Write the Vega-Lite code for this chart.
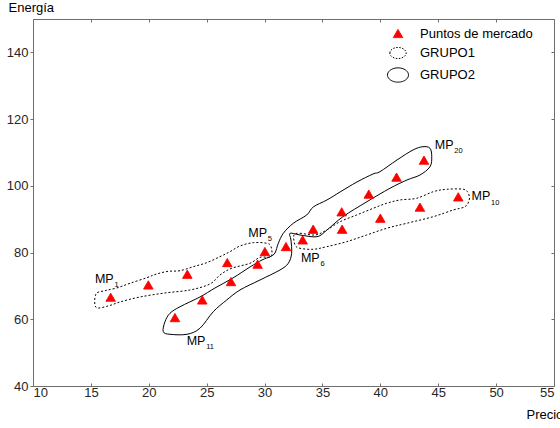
{
  "$schema": "https://vega.github.io/schema/vega-lite/v6.json",
  "width": 521,
  "height": 367,
  "autosize": {"type": "none"},
  "padding": {"left": 33, "top": 19, "right": 6, "bottom": 42},
  "background": "white",
  "config": {
    "view": {"stroke": null},
    "font": "Liberation Sans",
    "axis": {
      "grid": false,
      "domainColor": "#6e6e6e",
      "tickColor": "#6e6e6e",
      "labelColor": "#262626",
      "labelFont": "Liberation Sans",
      "labelFontSize": 13,
      "titleFont": "Liberation Sans",
      "titleFontSize": 13,
      "titleFontWeight": "normal",
      "titleColor": "#000000"
    },
    "legend": {
      "labelFont": "Liberation Sans",
      "labelFontSize": 13,
      "labelColor": "#000000"
    }
  },
  "datasets": {
    "pts": [
      {"precio": 16.71, "energia": 66.6, "serie": "Puntos de mercado"},
      {"precio": 19.96, "energia": 70.3, "serie": "Puntos de mercado"},
      {"precio": 23.33, "energia": 73.5, "serie": "Puntos de mercado"},
      {"precio": 26.78, "energia": 77.0, "serie": "Puntos de mercado"},
      {"precio": 30.03, "energia": 80.3, "serie": "Puntos de mercado"},
      {"precio": 33.29, "energia": 83.8, "serie": "Puntos de mercado"},
      {"precio": 36.7, "energia": 87.0, "serie": "Puntos de mercado"},
      {"precio": 40.0, "energia": 90.3, "serie": "Puntos de mercado"},
      {"precio": 43.42, "energia": 93.6, "serie": "Puntos de mercado"},
      {"precio": 46.73, "energia": 96.7, "serie": "Puntos de mercado"},
      {"precio": 22.26, "energia": 60.5, "serie": "Puntos de mercado"},
      {"precio": 24.62, "energia": 65.8, "serie": "Puntos de mercado"},
      {"precio": 27.1, "energia": 71.3, "serie": "Puntos de mercado"},
      {"precio": 29.4, "energia": 76.5, "serie": "Puntos de mercado"},
      {"precio": 31.85, "energia": 81.8, "serie": "Puntos de mercado"},
      {"precio": 34.2, "energia": 87.0, "serie": "Puntos de mercado"},
      {"precio": 36.66, "energia": 92.2, "serie": "Puntos de mercado"},
      {"precio": 39.0, "energia": 97.5, "serie": "Puntos de mercado"},
      {"precio": 41.4, "energia": 102.6, "serie": "Puntos de mercado"},
      {"precio": 43.77, "energia": 107.7, "serie": "Puntos de mercado"}
    ],
    "labels": [
      {"precio": 15.35, "energia": 72.1, "sub": "1"},
      {"precio": 28.59, "energia": 85.95, "sub": "5"},
      {"precio": 33.14, "energia": 78.4, "sub": "6"},
      {"precio": 47.88, "energia": 96.9, "sub": "10"},
      {"precio": 23.27, "energia": 53.5, "sub": "11"},
      {"precio": 44.71, "energia": 112.3, "sub": "20"}
    ],
    "g1": [
      {"part": "a", "i": 1, "precio": 15.44, "energia": 67.58},
      {"part": "a", "i": 2, "precio": 16.22, "energia": 68.57},
      {"part": "a", "i": 3, "precio": 17.23, "energia": 69.38},
      {"part": "a", "i": 4, "precio": 18.38, "energia": 70.79},
      {"part": "a", "i": 5, "precio": 19.82, "energia": 72.46},
      {"part": "a", "i": 6, "precio": 20.68, "energia": 73.57},
      {"part": "a", "i": 7, "precio": 21.69, "energia": 74.38},
      {"part": "a", "i": 8, "precio": 22.7, "energia": 74.56},
      {"part": "a", "i": 9, "precio": 23.85, "energia": 75.76},
      {"part": "a", "i": 10, "precio": 25.0, "energia": 76.96},
      {"part": "a", "i": 11, "precio": 26.15, "energia": 78.76},
      {"part": "a", "i": 12, "precio": 27.01, "energia": 80.26},
      {"part": "a", "i": 13, "precio": 27.88, "energia": 81.97},
      {"part": "a", "i": 14, "precio": 29.03, "energia": 82.96},
      {"part": "a", "i": 15, "precio": 30.18, "energia": 82.78},
      {"part": "a", "i": 16, "precio": 30.56, "energia": 81.76},
      {"part": "a", "i": 17, "precio": 30.56, "energia": 78.76},
      {"part": "a", "i": 18, "precio": 29.61, "energia": 78.58},
      {"part": "a", "i": 19, "precio": 28.74, "energia": 76.78},
      {"part": "a", "i": 20, "precio": 27.16, "energia": 75.28},
      {"part": "a", "i": 21, "precio": 26.15, "energia": 73.27},
      {"part": "a", "i": 22, "precio": 25.29, "energia": 70.58},
      {"part": "a", "i": 23, "precio": 23.56, "energia": 68.78},
      {"part": "a", "i": 24, "precio": 21.4, "energia": 67.88},
      {"part": "a", "i": 25, "precio": 19.24, "energia": 66.68},
      {"part": "a", "i": 26, "precio": 17.51, "energia": 65.18},
      {"part": "a", "i": 27, "precio": 16.48, "energia": 63.98},
      {"part": "a", "i": 28, "precio": 15.44, "energia": 63.59},
      {"part": "b", "i": 1, "precio": 32.54, "energia": 85.26},
      {"part": "b", "i": 2, "precio": 33.06, "energia": 85.77},
      {"part": "b", "i": 3, "precio": 34.36, "energia": 85.26},
      {"part": "b", "i": 4, "precio": 35.37, "energia": 86.76},
      {"part": "b", "i": 5, "precio": 36.52, "energia": 89.25},
      {"part": "b", "i": 6, "precio": 37.96, "energia": 91.26},
      {"part": "b", "i": 7, "precio": 39.39, "energia": 93.27},
      {"part": "b", "i": 8, "precio": 40.55, "energia": 94.77},
      {"part": "b", "i": 9, "precio": 41.7, "energia": 95.76},
      {"part": "b", "i": 10, "precio": 43.14, "energia": 96.27},
      {"part": "b", "i": 11, "precio": 44.57, "energia": 98.24},
      {"part": "b", "i": 12, "precio": 45.73, "energia": 98.96},
      {"part": "b", "i": 13, "precio": 47.17, "energia": 98.96},
      {"part": "b", "i": 14, "precio": 47.6, "energia": 97.76},
      {"part": "b", "i": 15, "precio": 47.68, "energia": 95.76},
      {"part": "b", "i": 16, "precio": 47.31, "energia": 93.75},
      {"part": "b", "i": 17, "precio": 46.3, "energia": 92.76},
      {"part": "b", "i": 18, "precio": 44.57, "energia": 90.75},
      {"part": "b", "i": 19, "precio": 42.28, "energia": 88.77},
      {"part": "b", "i": 20, "precio": 40.55, "energia": 87.27},
      {"part": "b", "i": 21, "precio": 38.82, "energia": 85.26},
      {"part": "b", "i": 22, "precio": 37.09, "energia": 83.26},
      {"part": "b", "i": 23, "precio": 35.37, "energia": 81.76},
      {"part": "b", "i": 24, "precio": 34.21, "energia": 80.98},
      {"part": "b", "i": 25, "precio": 33.06, "energia": 81.28},
      {"part": "b", "i": 26, "precio": 32.63, "energia": 82.27}
    ],
    "g2": [
      {"i": 1, "precio": 21.25, "energia": 56.28},
      {"i": 2, "precio": 21.4, "energia": 59.27},
      {"i": 3, "precio": 21.83, "energia": 61.79},
      {"i": 4, "precio": 22.7, "energia": 63.77},
      {"i": 5, "precio": 24.42, "energia": 66.68},
      {"i": 6, "precio": 25.72, "energia": 69.38},
      {"i": 7, "precio": 27.27, "energia": 72.37},
      {"i": 8, "precio": 28.74, "energia": 75.67},
      {"i": 9, "precio": 29.78, "energia": 77.77},
      {"i": 10, "precio": 30.47, "energia": 78.76},
      {"i": 11, "precio": 30.9, "energia": 79.87},
      {"i": 12, "precio": 31.19, "energia": 82.78},
      {"i": 13, "precio": 31.62, "energia": 85.77},
      {"i": 14, "precio": 32.48, "energia": 88.77},
      {"i": 15, "precio": 33.64, "energia": 91.26},
      {"i": 16, "precio": 34.21, "energia": 93.66},
      {"i": 17, "precio": 35.39, "energia": 95.76},
      {"i": 18, "precio": 36.52, "energia": 98.15},
      {"i": 19, "precio": 37.98, "energia": 101.15},
      {"i": 20, "precio": 39.37, "energia": 103.55},
      {"i": 21, "precio": 39.97, "energia": 104.24},
      {"i": 22, "precio": 41.44, "energia": 107.75},
      {"i": 23, "precio": 42.82, "energia": 110.74},
      {"i": 24, "precio": 43.68, "energia": 111.73},
      {"i": 25, "precio": 44.29, "energia": 111.25},
      {"i": 26, "precio": 44.44, "energia": 108.73},
      {"i": 27, "precio": 44.29, "energia": 105.74},
      {"i": 28, "precio": 43.43, "energia": 103.25},
      {"i": 29, "precio": 42.3, "energia": 101.75},
      {"i": 30, "precio": 40.83, "energia": 99.26},
      {"i": 31, "precio": 38.85, "energia": 95.25},
      {"i": 32, "precio": 36.77, "energia": 90.75},
      {"i": 33, "precio": 35.39, "energia": 86.76},
      {"i": 34, "precio": 34.53, "energia": 84.75},
      {"i": 35, "precio": 33.06, "energia": 85.26},
      {"i": 36, "precio": 32.2, "energia": 85.77},
      {"i": 37, "precio": 32.28, "energia": 83.76},
      {"i": 38, "precio": 32.34, "energia": 79.78},
      {"i": 39, "precio": 32.05, "energia": 76.78},
      {"i": 40, "precio": 31.33, "energia": 74.77},
      {"i": 41, "precio": 29.61, "energia": 71.78},
      {"i": 42, "precio": 27.88, "energia": 68.78},
      {"i": 43, "precio": 26.73, "energia": 65.78},
      {"i": 44, "precio": 25.57, "energia": 62.27},
      {"i": 45, "precio": 24.42, "energia": 57.3},
      {"i": 46, "precio": 23.3, "energia": 55.5},
      {"i": 47, "precio": 21.83, "energia": 55.5}
    ]
  },
  "resolve": {"axis": {"x": "independent", "y": "independent"}},
  "layer": [
    {
      "data": {"name": "g2"},
      "mark": {"type": "line", "interpolate": "cardinal-closed", "stroke": "#000000", "strokeWidth": 1},
      "encoding": {
        "x": {"field": "precio", "type": "quantitative", "scale": {"domain": [10, 55], "nice": false, "zero": false},
          "axis": {"orient": "top", "labels": false, "title": null, "values": [10, 15, 20, 25, 30, 35, 40, 45, 50, 55], "tickSize": -3}},
        "y": {"field": "energia", "type": "quantitative", "scale": {"domain": [40, 150], "nice": false, "zero": false},
          "axis": {"orient": "right", "labels": false, "title": null, "values": [40, 60, 80, 100, 120, 140], "tickSize": -3}},
        "order": {"field": "i", "type": "quantitative"}
      }
    },
    {
      "data": {"name": "g1"},
      "mark": {"type": "line", "interpolate": "cardinal-closed", "stroke": "#000000", "strokeWidth": 1, "strokeDash": [2, 2]},
      "encoding": {
        "x": {"field": "precio", "type": "quantitative", "axis": null},
        "y": {"field": "energia", "type": "quantitative", "axis": null},
        "detail": {"field": "part", "type": "nominal"},
        "order": {"field": "i", "type": "quantitative"}
      }
    },
    {
      "data": {"name": "pts"},
      "mark": {"type": "point", "filled": true, "strokeWidth": 1, "opacity": 1},
      "encoding": {
        "x": {"field": "precio", "type": "quantitative",
          "axis": {"orient": "bottom", "values": [10, 15, 20, 25, 30, 35, 40, 45, 50, 55], "tickSize": -3, "labelPadding": 3,
            "title": "Precio", "titleX": 493, "titleY": 28, "titleAlign": "left", "titleBaseline": "middle", "titleAnchor": null}},
        "y": {"field": "energia", "type": "quantitative",
          "axis": {"orient": "left", "values": [40, 60, 80, 100, 120, 140], "tickSize": 3, "labelPadding": 2,
            "title": "Energía", "titleAngle": 0, "titleX": -25, "titleY": -12, "titleAlign": "left", "titleBaseline": "middle", "titleAnchor": null}},
        "shape": {"field": "serie", "type": "nominal", "title": null,
          "scale": {"domain": ["Puntos de mercado", "GRUPO1", "GRUPO2"], "range": ["triangle-up", "M-1,0A1,0.68,0,1,1,1,0A1,0.68,0,1,1,-1,0Z", "M-1,0A1,0.68,0,1,1,1,0A1,0.68,0,1,1,-1,0Z"]},
          "legend": {"orient": "none", "legendX": 354, "legendY": 8, "padding": 0, "rowPadding": 3, "labelOffset": 11, "symbolStrokeWidth": 1}},
        "fill": {"field": "serie", "type": "nominal", "title": null,
          "scale": {"domain": ["Puntos de mercado", "GRUPO1", "GRUPO2"], "range": ["#ff0000", "transparent", "transparent"]}},
        "stroke": {"field": "serie", "type": "nominal", "title": null,
          "scale": {"domain": ["Puntos de mercado", "GRUPO1", "GRUPO2"], "range": ["#ff0000", "#000000", "#000000"]}},
        "strokeDash": {"field": "serie", "type": "nominal", "title": null,
          "scale": {"domain": ["Puntos de mercado", "GRUPO1", "GRUPO2"], "range": [[1, 0], [1.5, 1.5], [1, 0]]}},
        "size": {"field": "serie", "type": "nominal", "title": null,
          "scale": {"domain": ["Puntos de mercado", "GRUPO1", "GRUPO2"], "range": [90, 441, 441]}}
      }
    },
    {
      "data": {"name": "labels"},
      "mark": {"type": "text", "text": "MP", "align": "left", "baseline": "middle", "fontSize": 12.5, "font": "Liberation Sans", "color": "#000000"},
      "encoding": {
        "x": {"field": "precio", "type": "quantitative", "axis": null},
        "y": {"field": "energia", "type": "quantitative", "axis": null}
      }
    },
    {
      "data": {"name": "labels"},
      "mark": {"type": "text", "align": "left", "baseline": "middle", "fontSize": 7.5, "dx": 19.5, "dy": 6.5, "font": "Liberation Sans", "color": "#000000"},
      "encoding": {
        "x": {"field": "precio", "type": "quantitative", "axis": null},
        "y": {"field": "energia", "type": "quantitative", "axis": null},
        "text": {"field": "sub", "type": "nominal"}
      }
    }
  ]
}
